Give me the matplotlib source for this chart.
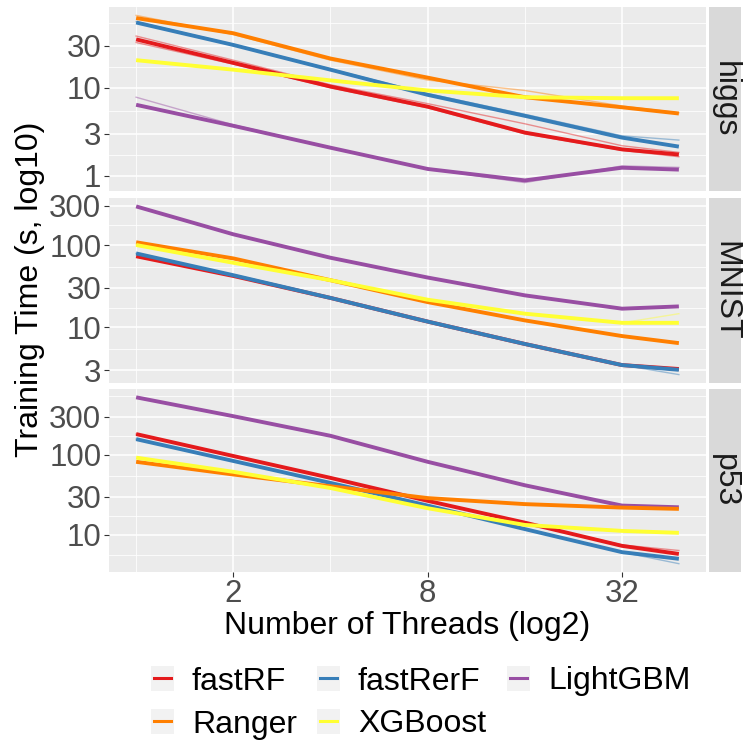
import numpy as np
import matplotlib.pyplot as plt
from matplotlib.patches import Rectangle
from matplotlib.lines import Line2D
from matplotlib.ticker import FixedLocator, FuncFormatter

plt.rcParams['font.family'] = ['Liberation Sans', 'DejaVu Sans']

threads = [1, 2, 4, 8, 16, 32, 48]
datasets = ['higgs', 'MNIST', 'p53']
methods = ['fastRF', 'fastRerF', 'LightGBM', 'Ranger', 'XGBoost']
colors = {'fastRF': '#E41A1C', 'fastRerF': '#377EB8', 'LightGBM': '#984EA3',
          'Ranger': '#FF7F00', 'XGBoost': '#FFFF33'}

# mean training time (s) per dataset / method
higgs_fastRF = [35.3, 19.1, 10.3, 6.1, 3.1, 2.0, 1.75]
higgs_fastRerF = [54.8, 30.5, 16.0, 8.3, 4.8, 2.72, 2.15]
higgs_lightgbm = [6.4, 3.7, 2.09, 1.2, 0.89, 1.24, 1.18]
higgs_ranger = [61.5, 41.4, 21.4, 13.0, 7.8, 6.0, 5.1]
higgs_xgboost = [20.5, 16.0, 12.1, 9.3, 7.8, 7.6, 7.6]

mnist_fastRF = [73, 42, 22.7, 11.7, 6.25, 3.46, 3.1]
mnist_fastRerF = [79, 42.9, 22.7, 11.7, 6.25, 3.46, 3.03]
mnist_lightgbm = [295, 135, 70, 40.2, 24.4, 16.8, 17.9]
mnist_ranger = [108, 68.7, 37.3, 20.2, 12.1, 7.8, 6.4]
mnist_xgboost = [100, 60.8, 37.3, 21.6, 14.6, 11.3, 11.3]

p53_fastRF = [183, 97, 51.5, 26.5, 14.1, 7.2, 5.7]
p53_fastRerF = [158, 84, 44.5, 23.1, 11.7, 6.0, 4.95]
p53_lightgbm = [530, 307, 174, 82, 41.6, 23.1, 22.0]
p53_ranger = [82, 56.8, 40.4, 28.7, 24.1, 21.8, 21.0]
p53_xgboost = [92.5, 61.4, 38.4, 21.4, 13.2, 11.1, 10.5]

# a few individual runs that stray from the mean
higgs_fastRF_runs = [[38.5, 20.5, 10.8, 6.6, 3.9, 2.2, 1.85],
                     [32.5, 18.5, 10.0, 5.9, 3.0, 1.95, 1.65]]
higgs_fastRerF_runs = [[56, 31, 16.3, 8.6, 5.0, 2.85, 2.55]]
higgs_lightgbm_runs = [[7.8, 3.8, 2.1, 1.2, 0.84, 1.3, 1.25]]
higgs_ranger_runs = [[66, 40, 20.5, 12.2, 9.3, 6.2, 5.2]]
mnist_fastRerF_runs = [[79, 42.9, 22.7, 11.7, 6.25, 3.46, 2.65]]
mnist_xgboost_runs = [[100, 60.8, 37.3, 21.6, 14.6, 11.3, 14.6]]
p53_fastRF_runs = [[183, 97, 51.5, 26.5, 14.1, 7.4, 6.3]]
p53_fastRerF_runs = [[158, 84, 44.5, 23.1, 11.7, 6.0, 4.3]]

means = {
    'higgs': [higgs_fastRF, higgs_fastRerF, higgs_lightgbm, higgs_ranger, higgs_xgboost],
    'MNIST': [mnist_fastRF, mnist_fastRerF, mnist_lightgbm, mnist_ranger, mnist_xgboost],
    'p53': [p53_fastRF, p53_fastRerF, p53_lightgbm, p53_ranger, p53_xgboost],
}
runs = {
    'higgs': {'fastRF': higgs_fastRF_runs, 'fastRerF': higgs_fastRerF_runs,
              'LightGBM': higgs_lightgbm_runs, 'Ranger': higgs_ranger_runs},
    'MNIST': {'fastRerF': mnist_fastRerF_runs, 'XGBoost': mnist_xgboost_runs},
    'p53': {'fastRF': p53_fastRF_runs, 'fastRerF': p53_fastRerF_runs},
}

y_breaks = [0.1, 0.3, 1, 3, 10, 30, 100, 300, 1000, 3000]
x_breaks = [0.5, 2, 8, 32, 128]

W, H = 744, 740
fig = plt.figure(figsize=(W / 100, H / 100), dpi=100)

px_left, px_right = 109, 706
panels_px = [(7, 191), (198, 383), (389, 572)]
grey_bg = '#EBEBEB'


def expand(lo, hi, f=0.05):
    d = hi - lo
    return lo - f * d, hi + f * d


xlo, xhi = expand(np.log2(min(threads)), np.log2(max(threads)))

for i, ds in enumerate(datasets):
    top, bot = panels_px[i]
    ax = fig.add_axes([px_left / W, 1 - bot / H, (px_right - px_left) / W, (bot - top) / H])
    ax.set_facecolor(grey_bg)
    for s in ax.spines.values():
        s.set_visible(False)

    allv = [v for m in means[ds] for v in m]
    for rl in runs[ds].values():
        for r in rl:
            allv += r
    ylo, yhi = expand(np.log10(min(allv)), np.log10(max(allv)))

    ax.set_xscale('log', base=2)
    ax.set_yscale('log')
    ax.set_xlim(2 ** xlo, 2 ** xhi)
    ax.set_ylim(10 ** ylo, 10 ** yhi)

    # grid like ggplot: minor lines at midpoints of majors
    y_minor = [np.sqrt(a * b) for a, b in zip(y_breaks[:-1], y_breaks[1:])]
    x_minor = [np.sqrt(a * b) for a, b in zip(x_breaks[:-1], x_breaks[1:])]
    for v in y_minor:
        ax.axhline(v, color='white', lw=0.55, zorder=0.5)
    for v in y_breaks:
        ax.axhline(v, color='white', lw=1.1, zorder=0.6)
    for v in x_minor:
        ax.axvline(v, color='white', lw=0.55, zorder=0.5)
    for v in x_breaks:
        ax.axvline(v, color='white', lw=1.1, zorder=0.6)

    for m, vals in zip(methods, means[ds]):
        for r in runs[ds].get(m, []):
            ax.plot(threads, r, color=colors[m], lw=1.0, alpha=0.45, zorder=2)
        ax.plot(threads, vals, color=colors[m], lw=2.8, zorder=3, solid_capstyle='butt')

    ax.yaxis.set_major_locator(FixedLocator(y_breaks))
    ax.yaxis.set_minor_locator(FixedLocator([]))
    ax.yaxis.set_major_formatter(FuncFormatter(lambda v, p: f'{v:g}'))
    ax.xaxis.set_major_locator(FixedLocator(x_breaks))
    ax.xaxis.set_minor_locator(FixedLocator([]))
    ax.xaxis.set_major_formatter(FuncFormatter(lambda v, p: f'{v:g}'))
    ax.tick_params(axis='both', length=3.5, width=0.8, color='#333333',
                   labelsize=22.5, labelcolor='#4D4D4D', pad=2)
    ax.tick_params(axis='x', pad=1.5)
    if i < 2:
        ax.tick_params(axis='x', bottom=False, labelbottom=False)

    # facet strip on the right
    fig.patches.append(Rectangle((709 / W, 1 - bot / H), 32 / W, (bot - top) / H,
                                 transform=fig.transFigure, facecolor='#D9D9D9',
                                 edgecolor='none'))
    fig.text(725 / W, 1 - (top + bot) / 2 / H, ds, rotation=-90, ha='center',
             va='center', fontsize=23, color='#1A1A1A')

fig.text(30 / W, 1 - 289.5 / H, 'Training Time (s, log10)', rotation=90,
         ha='center', va='center', fontsize=23)
fig.text((px_left + px_right) / 2 / W, 1 - 626 / H, 'Number of Threads (log2)',
         ha='center', va='center', fontsize=23)

# legend with grey key boxes
leg_cols = [151, 317, 507]
leg_rows = [678, 721]
for k, m in enumerate(methods):
    cx = leg_cols[k % 3]
    cy = leg_rows[k // 3]
    fig.patches.append(Rectangle((cx / W, 1 - (cy + 12.5) / H), 23 / W, 25 / H,
                                 transform=fig.transFigure, facecolor='#F2F2F2',
                                 edgecolor='none'))
    fig.lines.append(Line2D([(cx + 3) / W, (cx + 20) / W], [1 - cy / H, 1 - cy / H],
                            transform=fig.transFigure, color=colors[m], lw=2.2))
    fig.text((cx + 41) / W, 1 - cy / H, m, ha='left', va='center_baseline',
             fontsize=23)

fig.savefig('out.png', dpi=100)
